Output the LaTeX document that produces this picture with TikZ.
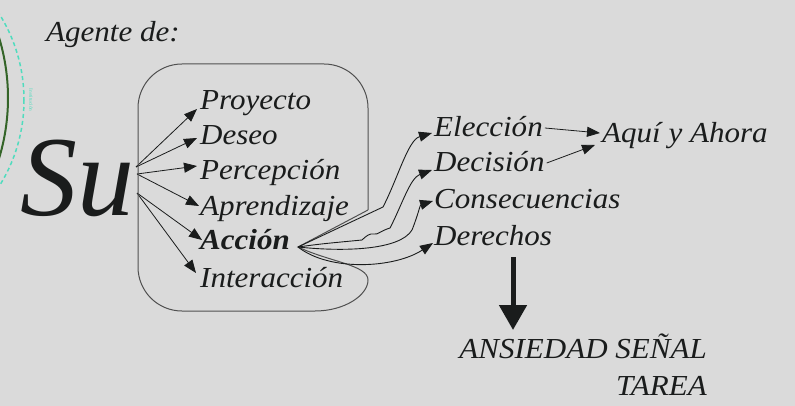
\documentclass[tikz,border=0pt]{standalone}
\usepackage{fontspec}
\setmainfont{Liberation Serif}[FakeStretch=1.07]
\newfontfamily\bigserif{Liberation Serif}
\usetikzlibrary{arrows.meta}
\definecolor{paper}{RGB}{218,218,218}
\definecolor{ink}{RGB}{26,28,28}
\definecolor{boxgray}{RGB}{80,80,80}
\definecolor{leafgreen}{RGB}{52,100,40}
\definecolor{aqua}{RGB}{80,220,190}

\begin{document}
\begin{tikzpicture}[
    x=1pt, y=-1pt,
    word/.style={font=\itshape\fontsize{29}{32}\selectfont, text=ink, inner sep=0pt, anchor=base west},
    link/.style={-{Triangle[length=13pt,width=10pt]}, draw=ink, line width=0.8pt},
    curvy/.style={link, line width=0.9pt},
    boxline/.style={draw=boxgray, line width=1pt},
    >=Stealth
]
\useasboundingbox (0,0) rectangle (795,406);
\fill[paper] (0,0) rectangle (795,406);
\clip (0,0) rectangle (795,406);

% marks at the left margin
\draw[leafgreen, line width=2pt] (-199,98) circle (207);
\draw[aqua, line width=1.5pt, dash pattern=on 4pt off 3pt] (-138,100) circle (162);
\node[font=\fontsize{5}{6}\selectfont, text=aqua, rotate=-90, inner sep=0pt] (inst) at (31,100) {Institución};

\node[word] (age) at (46,42) {Agente de:};
\node[word, font=\bigserif\itshape\fontsize{114}{120}\selectfont] (su) at (20,215) {Su};

% what the agent holds
\node[word] (pro) at (200,110) {Proyecto};
\node[word] (des) at (200,145) {Deseo};
\node[word] (per) at (200,180) {Percepción};
\node[word] (apr) at (200,215) {Aprendizaje};
\node[word, font=\bfseries\itshape\fontsize{29}{32}\selectfont] (acc) at (200,250) {Acción};
\node[word] (int) at (200,287) {Interacción};

\coordinate (suhi) at (136,167);
\coordinate (sumid) at (137,174);
\coordinate (sulo) at (137,193);
\draw[link] (suhi) -- ([xshift=-3pt,yshift=1pt]pro.base west);
\draw[link] (suhi) -- ([xshift=-3pt,yshift=7pt]des.base west);
\draw[link] (sumid) -- ([xshift=-3pt,yshift=14pt]per.base west);
\draw[link] (sumid) -- ([xshift=-1pt,yshift=9pt]apr.base west);
\draw[link] (sulo) -- ([xshift=2pt,yshift=10pt]acc.base west);
\draw[link] (sulo) -- ([xshift=-4pt,yshift=14pt]int.base west);

% box with its notch at Accion
\coordinate (notch) at (298,247);
\draw[boxline] (368,210) -- (notch) .. controls (330,262) and (368,265) .. (368,280)
    .. controls (368,295) and (345,311) .. (315,311)
    [rounded corners=44pt] -- (138,311) -- (138,64) -- (368,64) -- (368,210);

% what follows from the action
\node[word] (ele) at (434,137) {Elección};
\node[word] (dec) at (434,172) {Decisión};
\node[word] (con) at (434,208) {Consecuencias};
\node[word] (der) at (434,245) {Derechos};
\node[word] (aqu) at (602,143) {Aquí y Ahora};

\draw[curvy] (notch) -- (383,207) .. controls (398,178) and (408,140) .. ([xshift=-2pt,yshift=4pt]ele.base west);
\draw[curvy] (notch) .. controls (320,244) .. (362,240) .. controls (366,236) and (370,233) .. (374,234)
    .. controls (378,235) and (380,231) .. (390,228) .. controls (402,205) and (410,178) .. ([xshift=-2pt,yshift=2pt]dec.base west);
\draw[curvy] (notch) .. controls (345,252) and (400,250) .. (412,230) .. controls (418,215) and (420,205) .. ([xshift=-1pt,yshift=7pt]con.base west);
\draw[curvy] (notch) .. controls (330,272) and (395,268) .. ([xshift=-1pt,yshift=2pt]der.base west);

\draw[link] ([xshift=2pt,yshift=9pt]ele.base east) -- ([xshift=-2pt,yshift=10pt]aqu.base west);
\draw[link] ([xshift=2pt,yshift=9pt]dec.base east) -- ([xshift=-7pt,yshift=-2pt]aqu.base west);

% down to the anxiety
\node[word, anchor=base east] (ans) at (707,358) {ANSIEDAD SEÑAL};
\node[word, anchor=base east] (tar) at ([yshift=-37pt]ans.base east) {TAREA};
\coordinate (arrx) at (513,0);
\draw[ink, line width=5pt, -{Triangle[length=25pt,width=27pt]}] ([yshift=-12pt]der.base west -| arrx) -- ([yshift=28pt]ans.base west -| arrx);
\end{tikzpicture}
\end{document}
